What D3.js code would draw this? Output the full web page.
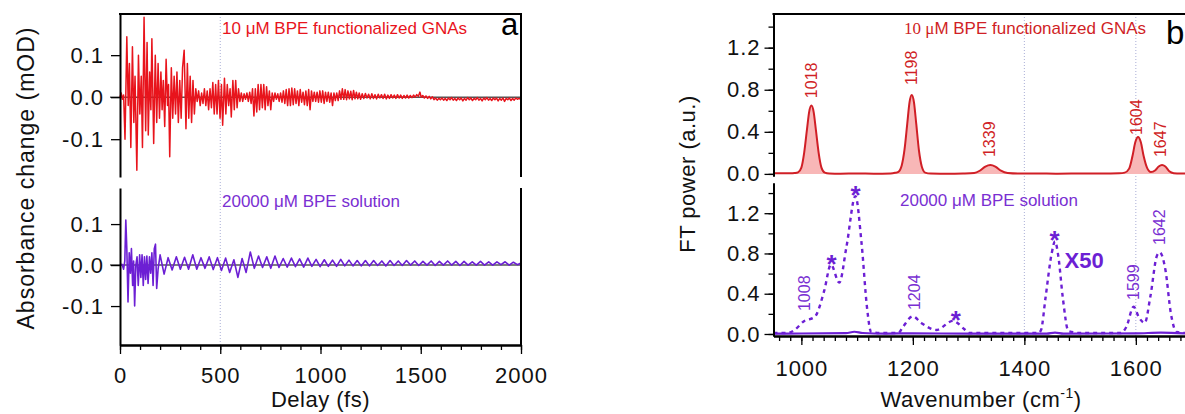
<!DOCTYPE html>
<meta charset="utf-8">
<style>
  body { margin: 0; background: #fff; }
  text { font-family: "Liberation Sans", Arial, sans-serif; }
</style>
<svg width="1185" height="414"></svg>
<script src="https://d3js.org/d3.v7.min.js"></script>
<script>

// ---- data: panel a (delay in fs, absorbance change in mOD) ----
var delayTicks = [0, 500, 1000, 1500, 2000];
var absTicks = [-0.1, 0.0, 0.1];

var gnaTrace = [[0,0],[6,0.01],[12,-0.005],[18,0.005],[25,-0.1],[34,0.144],[41,-0.02],[47,0.08],[54,-0.12],[62,0.12],[69,-0.06],[75,0.05],[84,-0.174],[92,0.1],[99,-0.04],[106,0.05],[112,-0.12],[120,0.19],[128,-0.08],[135,0.13],[141,-0.09],[148,0.06],[154,-0.03],[159,0.139],[168,-0.11],[176,0.1],[183,-0.06],[190,0.08],[197,-0.05],[204,0.06],[210,-0.03],[216,0.04],[223,-0.07],[230,0.09],[237,-0.02],[242,0.03],[248,-0.142],[256,0.07],[263,-0.05],[270,0.05],[277,-0.04],[284,0.06],[291,-0.06],[298,0.04],[305,-0.05],[312,0.07],[320,0.112],[329,-0.075],[336,0.08],[343,-0.05],[350,0.05],[357,-0.06],[364,0.04],[371,-0.04],[378,0.02],[385,-0.01],[392,0.015],[400,-0.02],[407,0.01],[414,-0.015],[421,0.02],[428,-0.02],[435,0.015],[442,-0.03],[449,0.02],[456,-0.025],[463,0.035],[470,-0.04],[477,0.03],[484,-0.04],[491,0.04],[499,-0.05],[506,0.03],[512,-0.067],[521,0.045],[528,-0.04],[535,0.03],[542,-0.02],[549,0.02],[555,-0.047],[563,0.04],[570,-0.03],[577,0.04],[584,-0.025],[591,0.02],[598,-0.01],[605,0.01],[612,-0.01],[619,0.008],[626,-0.005],[633,0.01],[640,-0.01],[647,0.012],[654,-0.015],[661,0.02],[668,-0.045],[675,0.02],[682,-0.035],[689,0.03],[696,-0.03],[703,0.03],[710,-0.025],[717,0.03],[724,-0.03],[731,0.025],[738,-0.02],[745,0.015],[752,-0.03],[759,0.01],[766,-0.01],[773,0.01],[780,-0.005],[787,0.008],[794,-0.01],[801,0.01],[808,-0.012],[815,0.015],[822,-0.015],[829,0.018],[836,-0.02],[843,0.02],[850,-0.02],[857,0.022],[864,-0.018],[871,0.02],[878,-0.015],[885,0.015],[892,-0.02],[899,0.018],[906,-0.012],[913,0.012],[920,-0.018],[927,0.015],[934,-0.02],[941,0.018],[948,-0.03],[955,0.015],[962,-0.01],[969,0.012],[976,-0.01],[983,0.012],[990,-0.012],[997,0.015],[1004,-0.012],[1011,0.015],[1018,-0.015],[1025,0.012],[1032,-0.01],[1039,0.012],[1046,-0.012],[1053,0.01],[1060,-0.02],[1067,0.01],[1074,-0.008],[1081,0.01],[1088,-0.008],[1095,0.015],[1102,-0.005],[1109,0.02],[1116,-0.005],[1123,0.018],[1130,-0.006],[1137,0.015],[1144,-0.004],[1151,0.014],[1158,-0.006],[1165,0.016],[1172,-0.004],[1179,0.012],[1186,-0.004],[1193,0.01],[1200,-0.005],[1208,0.008],[1216,-0.003],[1224,0.009],[1232,-0.002],[1240,0.007],[1248,-0.004],[1256,0.008],[1264,-0.003],[1272,0.006],[1280,-0.004],[1288,0.007],[1296,-0.002],[1304,0.006],[1312,-0.003],[1320,0.007],[1328,-0.004],[1336,0.005],[1344,-0.003],[1352,0.006],[1360,-0.002],[1368,0.005],[1376,-0.003],[1384,0.006],[1392,-0.002],[1400,0.005],[1408,-0.003],[1416,0.004],[1424,-0.002],[1432,0.005],[1440,-0.002],[1448,0.004],[1456,-0.001],[1464,0.005],[1472,0.0],[1480,0.006],[1488,0.002],[1496,0.012],[1502,0.0],[1510,0.004],[1518,-0.002],[1526,0.003],[1534,-0.003],[1542,0.002],[1550,-0.004],[1558,0.001],[1566,-0.006],[1574,-0.002],[1582,-0.007],[1590,-0.003],[1598,-0.006],[1606,-0.002],[1614,-0.007],[1622,-0.003],[1630,-0.008],[1638,-0.002],[1646,-0.006],[1654,-0.001],[1662,-0.007],[1670,-0.003],[1678,-0.008],[1686,-0.002],[1694,-0.006],[1702,-0.002],[1710,-0.009],[1718,-0.003],[1726,-0.007],[1734,-0.001],[1742,-0.006],[1750,-0.002],[1758,-0.008],[1766,-0.003],[1774,-0.006],[1782,-0.001],[1790,-0.007],[1798,-0.003],[1806,-0.009],[1814,-0.002],[1822,-0.006],[1830,-0.001],[1838,-0.007],[1846,-0.003],[1854,-0.008],[1862,-0.002],[1870,-0.006],[1878,-0.002],[1886,-0.009],[1894,-0.003],[1902,-0.007],[1910,-0.002],[1918,-0.01],[1926,-0.003],[1934,-0.006],[1942,-0.002],[1950,-0.008],[1958,-0.003],[1966,-0.007],[1974,-0.002],[1982,-0.005],[1990,-0.003],[2000,-0.006]];

var solTrace = [[0,0],[10,0.002],[18,-0.01],[24,0.01],[29,0.11],[34,0.04],[40,-0.09],[46,0.03],[52,-0.02],[57,0.04],[63,-0.05],[68,0.01],[73,-0.1],[79,0.0],[85,0.02],[91,-0.05],[98,0.025],[104,-0.03],[110,0.025],[116,-0.05],[122,0.02],[128,-0.035],[134,0.022],[140,-0.045],[147,0.02],[153,-0.02],[159,0.03],[165,-0.05],[171,0.04],[177,0.051],[183,-0.057],[190,-0.01],[200,0.025],[220,-0.022],[240,0.018],[260,-0.012],[281,0.02],[301,-0.01],[322,0.019],[342,-0.01],[363,0.025],[383,-0.01],[404,0.018],[424,-0.008],[445,0.02],[465,-0.011],[486,0.018],[506,-0.013],[527,0.017],[547,-0.018],[568,0.013],[588,-0.03],[609,0.016],[629,-0.018],[650,0.032],[670,-0.008],[691,0.022],[711,-0.006],[732,0.02],[752,-0.008],[773,0.022],[793,-0.006],[814,0.016],[834,-0.005],[855,0.017],[875,-0.004],[896,0.015],[916,-0.005],[937,0.017],[957,-0.003],[978,0.014],[998,-0.004],[1019,0.013],[1039,-0.003],[1060,0.012],[1080,-0.003],[1101,0.014],[1121,-0.002],[1142,0.012],[1162,-0.002],[1183,0.011],[1203,-0.002],[1224,0.011],[1244,-0.002],[1265,0.011],[1285,-0.001],[1306,0.01],[1326,-0.002],[1347,0.011],[1367,-0.001],[1388,0.01],[1408,-0.001],[1429,0.011],[1449,0.0],[1470,0.01],[1490,-0.001],[1511,0.009],[1531,0.0],[1552,0.01],[1572,-0.001],[1593,0.009],[1613,0.0],[1634,0.01],[1654,0.0],[1675,0.009],[1695,-0.001],[1716,0.009],[1736,0.0],[1757,0.008],[1777,0.0],[1798,0.009],[1818,0.0],[1839,0.008],[1859,0.0],[1880,0.008],[1900,0.001],[1921,0.008],[1941,0.0],[1962,0.007],[1982,0.001],[2000,0.005]];

// ---- data: panel b (wavenumber in cm-1, FT power a.u.) ----
var waveTicks = [1000, 1200, 1400, 1600];
var powerTicks = [0.0, 0.4, 0.8, 1.2];

var gnaSpectrum = [[950,0.005],[980,0.005],[988,0.008],[994,0.015],[1000,0.06],[1005,0.2],[1010,0.42],[1014,0.59],[1018,0.65],[1022,0.59],[1026,0.42],[1031,0.2],[1036,0.06],[1042,0.012],[1050,0.004],[1070,0.002],[1100,0.004],[1130,0.002],[1160,0.004],[1168,0.01],[1174,0.02],[1180,0.08],[1185,0.23],[1190,0.48],[1194,0.68],[1198,0.75],[1202,0.68],[1206,0.48],[1211,0.22],[1216,0.07],[1222,0.012],[1232,0.003],[1260,0.002],[1290,0.004],[1310,0.008],[1320,0.03],[1330,0.07],[1339,0.085],[1348,0.07],[1358,0.03],[1370,0.008],[1390,0.003],[1420,0.004],[1460,0.002],[1500,0.004],[1540,0.003],[1570,0.006],[1580,0.012],[1588,0.05],[1594,0.17],[1599,0.3],[1604,0.35],[1609,0.3],[1614,0.17],[1620,0.06],[1627,0.018],[1635,0.035],[1641,0.07],[1647,0.085],[1653,0.07],[1660,0.025],[1668,0.007],[1680,0.003],[1690,0.004]];

var solSpectrum = [[950,0.004],[1000,0.005],[1080,0.008],[1095,0.022],[1110,0.01],[1150,0.004],[1200,0.007],[1300,0.003],[1440,0.004],[1455,0.014],[1470,0.004],[1600,0.006],[1645,0.014],[1690,0.005]];

var solSpectrumX50 = [[950,0.01],[975,0.01],[988,0.04],[1004,0.125],[1024,0.17],[1041,0.43],[1053,0.69],[1068,0.51],[1081,0.87],[1097,1.37],[1108,0.9],[1118,0.25],[1125,0.02],[1140,0.01],[1174,0.01],[1181,0.06],[1200,0.175],[1215,0.11],[1242,0.04],[1272,0.13],[1292,0.05],[1301,0.01],[1350,0.01],[1425,0.01],[1430,0.04],[1438,0.36],[1449,0.8],[1455,0.92],[1461,0.77],[1469,0.36],[1479,0.03],[1500,0.01],[1573,0.01],[1583,0.07],[1596,0.27],[1606,0.16],[1616,0.11],[1626,0.37],[1638,0.78],[1643,0.81],[1653,0.64],[1663,0.2],[1673,0.02],[1690,0.01]];

// peak labels: [text, wavenumber, height]
var gnaPeakLabels = [["1018",1019,0.72],["1198",1197.5,0.845],["1339",1338,0.16],["1604",1602,0.37],["1647",1643.5,0.16]];
var solPeakLabels = [["1008",1006.5,0.228],["1204",1203,0.238],["1599",1596,0.338],["1642",1643,0.884]];
var solStars = [[1054,0.69],[1097,1.37],[1277,0.13],[1454,0.92]];

// ---- layout ----
var svg = d3.select("svg");
var red = "#e8141c", redDark = "#d01f26", redFill = "#f8b7b7",
    purple = "#6c1fd4", purpleText = "#7a2fd2", guide = "#a9aed6";

var xDelay = d3.scaleLinear().domain([0, 2000]).range([120, 521]);
var yGna = d3.scaleLinear().domain([-0.19, 0.198]).range([177, 14]);
var ySol = d3.scaleLinear().domain([-0.195, 0.188]).range([345, 188]);

var xWave = d3.scaleLinear().domain([950, 1690]).range([773.5, 1186]);
var yGnaP = d3.scaleLinear().domain([-0.02, 1.52]).range([176, 14]);
var ySolP = d3.scaleLinear().domain([-0.02, 1.5]).range([336, 183]);

function oneDecimal(d) { return d.toFixed(1); }

function styleAxis(g) {
  g.select(".domain").attr("stroke", "#000").attr("stroke-width", 2);
  g.selectAll(".tick line").attr("stroke", "#000").attr("stroke-width", 1.3);
  g.selectAll(".tick text").attr("fill", "#111")
    .style("font-size", "22px").style("letter-spacing", "1px");
}

// ---------- panel a ----------
var pa = svg.append("g");

// dotted guide at 500 fs
pa.append("line")
  .attr("x1", xDelay(500)).attr("x2", xDelay(500))
  .attr("y1", 14).attr("y2", 345)
  .attr("stroke", guide).attr("stroke-width", 1).attr("stroke-dasharray", "1,2");

// zero lines
[yGna, ySol].forEach(function(s) {
  pa.append("line")
    .attr("x1", 110).attr("x2", xDelay(2000))
    .attr("y1", s(0)).attr("y2", s(0))
    .attr("stroke", "#555").attr("stroke-width", 1.4);
});

var lineGna = d3.line().x(function(d) { return xDelay(d[0]); }).y(function(d) { return yGna(d[1]); });
var lineSol = d3.line().x(function(d) { return xDelay(d[0]); }).y(function(d) { return ySol(d[1]); });

pa.append("path").datum(gnaTrace).attr("d", lineGna)
  .attr("fill", "none").attr("stroke", red).attr("stroke-width", 1.5).attr("stroke-linejoin", "round");
pa.append("path").datum(solTrace).attr("d", lineSol)
  .attr("fill", "none").attr("stroke", purple).attr("stroke-width", 1.6).attr("stroke-linejoin", "round");

// y axes
[yGna, ySol].forEach(function(s) {
  pa.append("g").attr("transform", "translate(120,0)")
    .call(d3.axisLeft(s).tickValues(absTicks).tickSize(9).tickPadding(7).tickSizeOuter(0).tickFormat(oneDecimal))
    .call(styleAxis);
});

// x axis
pa.append("g").attr("transform", "translate(0,345)")
  .call(d3.axisBottom(xDelay).tickValues(xDelay.ticks(20)).tickSize(5).tickSizeOuter(0).tickFormat(""))
  .call(styleAxis);
pa.append("g").attr("transform", "translate(0,345)")
  .call(d3.axisBottom(xDelay).tickValues(delayTicks).tickSize(9).tickPadding(13).tickSizeOuter(0).tickFormat(d3.format("d")))
  .call(styleAxis);

// frame
pa.append("line").attr("x1", 119).attr("x2", 522).attr("y1", 14).attr("y2", 14)
  .attr("stroke", "#000").attr("stroke-width", 2);
pa.append("line").attr("x1", 521).attr("x2", 521).attr("y1", 14).attr("y2", 177)
  .attr("stroke", "#000").attr("stroke-width", 2);
pa.append("line").attr("x1", 521).attr("x2", 521).attr("y1", 188).attr("y2", 345)
  .attr("stroke", "#000").attr("stroke-width", 2);

// texts
pa.append("text").attr("x", 222).attr("y", 34).attr("fill", red)
  .style("font-size", "17px").text("10 \u03bcM BPE functionalized GNAs");
pa.append("text").attr("x", 222).attr("y", 207).attr("fill", purpleText)
  .style("font-size", "17px").text("20000 \u03bcM BPE solution");
pa.append("text").attr("x", 501).attr("y", 35).attr("fill", "#000")
  .style("font-size", "31px").text("a");
pa.append("text").attr("x", xDelay(1000)).attr("y", 407).attr("text-anchor", "middle")
  .attr("fill", "#111").style("font-size", "22px").style("letter-spacing", "0.5px").text("Delay (fs)");
pa.append("text").attr("transform", "translate(34,178) rotate(-90)").attr("text-anchor", "middle")
  .attr("fill", "#111").style("font-size", "23px").style("letter-spacing", "1px").text("Absorbance change (mOD)");

// ---------- panel b ----------
var pb = svg.append("g");

[1400, 1600].forEach(function(w) {
  pb.append("line")
    .attr("x1", xWave(w)).attr("x2", xWave(w))
    .attr("y1", 14).attr("y2", 336)
    .attr("stroke", guide).attr("stroke-width", 1).attr("stroke-dasharray", "1,2");
});

var areaGna = d3.area().curve(d3.curveMonotoneX)
  .x(function(d) { return xWave(d[0]); }).y0(yGnaP(0)).y1(function(d) { return yGnaP(d[1]); });
var lineGnaP = d3.line().curve(d3.curveMonotoneX)
  .x(function(d) { return xWave(d[0]); }).y(function(d) { return yGnaP(d[1]); });
var lineSolP = d3.line().curve(d3.curveMonotoneX)
  .x(function(d) { return xWave(d[0]); }).y(function(d) { return ySolP(d[1]); });

pb.append("path").datum(gnaSpectrum).attr("d", areaGna).attr("fill", redFill);
pb.append("path").datum(gnaSpectrum).attr("d", lineGnaP)
  .attr("fill", "none").attr("stroke", redDark).attr("stroke-width", 2);

pb.append("path").datum(solSpectrum).attr("d", lineSolP)
  .attr("fill", "none").attr("stroke", purple).attr("stroke-width", 2.2);
pb.append("path").datum(solSpectrumX50).attr("d", lineSolP)
  .attr("fill", "none").attr("stroke", purple).attr("stroke-width", 2.4).attr("stroke-dasharray", "4,4");

// y axes (major + minor)
[yGnaP, ySolP].forEach(function(s) {
  pb.append("g").attr("transform", "translate(773.5,0)")
    .call(d3.axisLeft(s).tickValues(s.ticks(8).filter(function(v) { return v >= 0; })).tickSize(5).tickSizeOuter(0).tickFormat(""))
    .call(styleAxis);
  pb.append("g").attr("transform", "translate(773.5,0)")
    .call(d3.axisLeft(s).tickValues(powerTicks).tickSize(9).tickPadding(4).tickSizeOuter(0).tickFormat(oneDecimal))
    .call(styleAxis);
});

// x axis
pb.append("g").attr("transform", "translate(0,336)")
  .call(d3.axisBottom(xWave).tickValues(xWave.ticks(40)).tickSize(5).tickSizeOuter(0).tickFormat(""))
  .call(styleAxis);
pb.append("g").attr("transform", "translate(0,336)")
  .call(d3.axisBottom(xWave).tickValues(waveTicks).tickSize(9).tickPadding(15).tickSizeOuter(0).tickFormat(d3.format("d")))
  .call(styleAxis);

pb.append("line").attr("x1", 772.5).attr("x2", 1185).attr("y1", 14).attr("y2", 14)
  .attr("stroke", "#000").attr("stroke-width", 2);

// peak labels
pb.selectAll(".gnaLabel").data(gnaPeakLabels).enter().append("text")
  .attr("transform", function(d) { return "translate(" + (xWave(d[1]) + 5.5) + "," + yGnaP(d[2]) + ") rotate(-90)"; })
  .attr("fill", redDark).style("font-size", "16px").text(function(d) { return d[0]; });
pb.selectAll(".solLabel").data(solPeakLabels).enter().append("text")
  .attr("transform", function(d) { return "translate(" + (xWave(d[1]) + 5.5) + "," + ySolP(d[2]) + ") rotate(-90)"; })
  .attr("fill", purpleText).style("font-size", "16px").text(function(d) { return d[0]; });
pb.selectAll(".star").data(solStars).enter().append("text")
  .attr("x", function(d) { return xWave(d[0]); })
  .attr("y", function(d) { return ySolP(d[1]) + 8; })
  .attr("text-anchor", "middle").attr("fill", purple)
  .style("font-size", "26px").style("font-weight", "bold").text("*");
pb.append("text").attr("x", xWave(1472)).attr("y", ySolP(0.655)).attr("fill", purple)
  .style("font-size", "22px").style("font-weight", "bold").text("X50");

var t1 = pb.append("text").attr("x", 904).attr("y", 34).attr("fill", redDark).style("font-size", "17px");
t1.append("tspan").style("font-family", "'Liberation Serif', 'Times New Roman', serif").text("10 \u03bc");
t1.append("tspan").text("M BPE functionalized GNAs");
pb.append("text").attr("x", 900).attr("y", 206).attr("fill", purpleText)
  .style("font-size", "17px").text("20000 \u03bcM BPE solution");
pb.append("text").attr("x", 1166).attr("y", 44).attr("fill", "#000")
  .style("font-size", "33px").text("b");

var xt = pb.append("text").attr("x", 981).attr("y", 407).attr("text-anchor", "middle")
  .attr("fill", "#111").style("font-size", "22px").style("letter-spacing", "0.5px");
xt.append("tspan").text("Wavenumber (cm");
xt.append("tspan").attr("dy", -9).style("font-size", "14px").text("-1");
xt.append("tspan").attr("dy", 9).text(")");
pb.append("text").attr("transform", "translate(695,174) rotate(-90)").attr("text-anchor", "middle")
  .attr("fill", "#111").style("font-size", "22px").style("letter-spacing", "0.5px").text("FT power (a.u.)");

</script>
